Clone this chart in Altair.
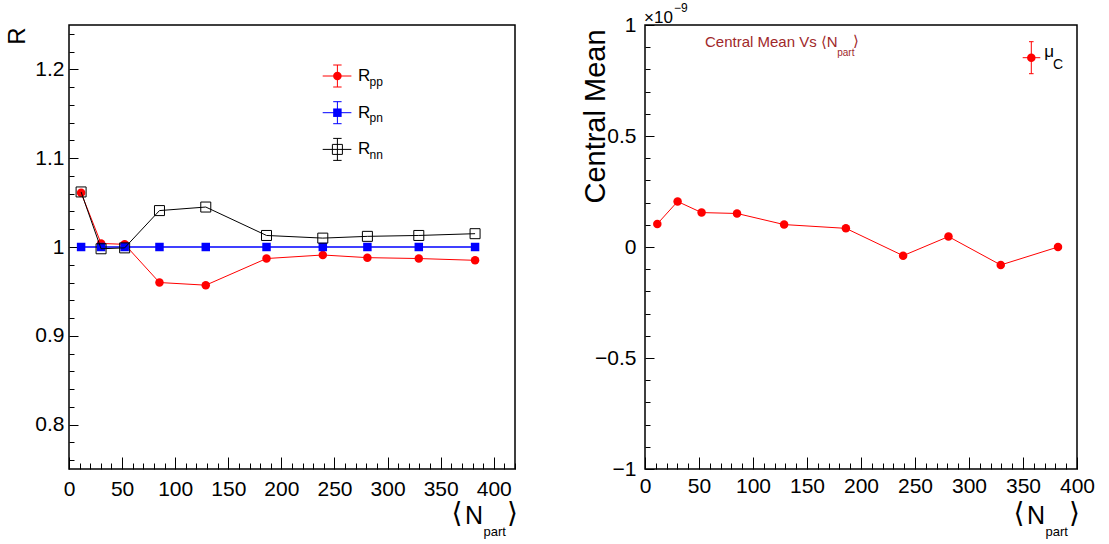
import altair as alt
import pandas as pd

# ---------------- data ----------------
npart = [11.4, 30.2, 52.4, 85.2, 128.8, 186.0, 239.0, 281.0, 329.4, 382.4]
r_pp = [1.061, 1.004, 1.003, 0.960, 0.957, 0.987, 0.991, 0.988, 0.987, 0.985]
r_pn = [1.000, 1.000, 1.000, 1.000, 1.000, 1.000, 1.000, 1.000, 1.000, 1.000]
r_nn = [1.062, 0.998, 0.999, 1.041, 1.045, 1.013, 1.010, 1.012, 1.013, 1.015]
mu_c = [0.104, 0.205, 0.155, 0.151, 0.101, 0.084, -0.039, 0.047, -0.081, 0.000]  # x 1e-9

left_x_ticks = list(range(0, 421, 10))
left_y_ticks = [round(0.76 + 0.02 * i, 2) for i in range(25)]
right_x_ticks = list(range(0, 401, 10))
right_y_ticks = [round(-1.0 + 0.1 * i, 1) for i in range(21)]

NARROW = "Liberation Sans Narrow, Liberation Sans, Arial, sans-serif"
SANS = "Liberation Sans, Arial, sans-serif"
BRK = "DejaVu Sans, sans-serif"

W1, W2, H = 446, 432, 444
one = pd.DataFrame({"k": [0]})


def txt(s, x, y, size, font=NARROW, align="left", baseline="alphabetic", angle=0, color="black"):
    return alt.Chart(one).mark_text(
        text=s, font=font, fontSize=size, align=align, baseline=baseline,
        angle=angle, color=color
    ).encode(x=alt.value(x), y=alt.value(y))


def seg(x1, y1, x2, y2, color="black", width=1.0):
    return alt.Chart(one).mark_rule(color=color, strokeWidth=width).encode(
        x=alt.value(x1), x2=alt.value(x2), y=alt.value(y1), y2=alt.value(y2))


def marker(x, y, shape, color, size, filled=True):
    return alt.Chart(one).mark_point(
        shape=shape, filled=filled, color=color, size=size, opacity=1,
        strokeWidth=1).encode(x=alt.value(x), y=alt.value(y))


def xaxis(vals, pad):
    return alt.Axis(
        values=vals, title=None, domain=False, grid=False,
        tickSize=alt.ExprRef(expr="datum.value % 50 === 0 ? -12 : -6"),
        tickColor="black", tickWidth=1,
        labelExpr="datum.value % 50 === 0 ? format(datum.value, 'd') : ''",
        labelFont=NARROW, labelFontSize=21, labelColor="black",
        labelPadding=pad, labelFlush=False, labelOverlap=False)


def yaxis(vals, pad, mult, major):
    test = f"abs(round(datum.value*{mult})) % {major} === 0"
    return alt.Axis(
        values=vals, title=None, domain=False, grid=False,
        tickSize=alt.ExprRef(expr=f"{test} ? -9 : -5"),
        tickColor="black", tickWidth=1,
        labelExpr=f"{test} ? format(datum.value, '') : ''",
        labelFont=NARROW, labelFontSize=21, labelColor="black",
        labelPadding=pad, labelOverlap=False, labelFlush=False)


# ---------------- left panel ----------------
lx = alt.X("npart:Q", scale=alt.Scale(domain=[0, 420], nice=False, zero=False),
           axis=xaxis(left_x_ticks, 21))
ly = alt.Y("r:Q", scale=alt.Scale(domain=[0.75, 1.25], nice=False, zero=False),
           axis=yaxis(left_y_ticks, 14, 100, 10))

df_pp = pd.DataFrame({"npart": npart, "r": r_pp})
df_pn = pd.DataFrame({"npart": npart, "r": r_pn})
df_nn = pd.DataFrame({"npart": npart, "r": r_nn})

layers_left = [
    alt.Chart(df_pp).mark_line(color="#ff0000", strokeWidth=1).encode(lx, ly),
    alt.Chart(df_pp).mark_point(shape="circle", filled=True, color="#ff0000", size=72, opacity=1).encode(lx, ly),
    alt.Chart(df_pn).mark_line(color="#0000ff", strokeWidth=1.5).encode(lx, ly),
    alt.Chart(df_pn).mark_point(shape="square", filled=True, color="#0000ff", size=72, opacity=1).encode(lx, ly),
    alt.Chart(df_nn).mark_line(color="black", strokeWidth=1).encode(lx, ly),
    alt.Chart(df_nn).mark_point(shape="square", filled=False, color="black", size=100, opacity=1, strokeWidth=1).encode(lx, ly),
]

# legend (left)
leg = [("pp", "#ff0000", "circle", True, 72), ("pn", "#0000ff", "square", True, 72),
       ("nn", "black", "square", False, 100)]
for i, (sub, col, shp, fil, sz) in enumerate(leg):
    cy = 51 + 36.7 * i
    layers_left += [
        seg(253.7, cy, 282.4, cy, col, 1),
        seg(268.4, cy - 11, 268.4, cy + 11, col, 1),
        seg(264.2, cy - 11, 272.6, cy - 11, col, 1),
        seg(264.2, cy + 11, 272.6, cy + 11, col, 1),
        marker(268.4, cy, shp, col, sz, fil),
        txt("R", 289, cy + 5, 17),
        txt(sub, 300.5, cy + 9.5, 12),
    ]

# axis titles (left)
layers_left += [
    txt("R", -51, 11, 24, font=SANS, align="center", baseline="middle", angle=270),
    txt("⟨", 388, 489, 28, font=BRK, align="center", baseline="middle"),
    txt("N", 396, 499.3, 25),
    txt("part", 414.5, 510.5, 13),
    txt("⟩", 443.5, 489, 28, font=BRK, align="center", baseline="middle"),
    # invisible anchor fixing the page origin
    alt.Chart(one).mark_rule(strokeWidth=0, opacity=0).encode(
        x=alt.value(-68), x2=alt.value(-67), y=alt.value(-24), y2=alt.value(-23)),
]

left = alt.layer(*layers_left).properties(width=W1, height=H)

# ---------------- right panel ----------------
rx = alt.X("npart:Q", scale=alt.Scale(domain=[0, 400], nice=False, zero=False),
           axis=xaxis(right_x_ticks, 18))
ry = alt.Y("mu:Q", scale=alt.Scale(domain=[-1, 1], nice=False, zero=False),
           axis=yaxis(right_y_ticks, 18, 10, 5))
df_mu = pd.DataFrame({"npart": npart, "mu": mu_c})

title_col = "#a0282a"
layers_right = [
    alt.Chart(df_mu).mark_line(color="#ff0000", strokeWidth=1).encode(rx, ry),
    alt.Chart(df_mu).mark_point(shape="circle", filled=True, color="#ff0000", size=72, opacity=1).encode(rx, ry),
    # legend
    seg(377.7, 32.7, 395.3, 32.7, "#ff0000", 1),
    seg(386.3, 16.7, 386.3, 48.7, "#ff0000", 1),
    seg(384.0, 16.7, 388.6, 16.7, "#ff0000", 1),
    seg(384.0, 48.7, 388.6, 48.7, "#ff0000", 1),
    marker(386.3, 32.7, "circle", "#ff0000", 72, True),
    txt("μ", 399.3, 32, 17),
    txt("C", 408, 44.3, 14),
    # exponent
    txt("×10", -1, -2, 17),
    txt("−9", 29, -13, 12),
    # title
    txt("Central Mean Vs ⟨N", 192.7, 21.7, 15, align="right", color=title_col),
    txt("part", 192.2, 30.5, 10, color=title_col),
    txt("⟩", 211, 16, 15, font=BRK, align="center", baseline="middle", color=title_col),
    # axis titles
    txt("Central Mean", -49.5, 91.5, 29, font=SANS, align="center", baseline="middle", angle=270),
    txt("⟨", 374, 489, 28, font=BRK, align="center", baseline="middle"),
    txt("N", 382, 499.3, 25),
    txt("part", 400.5, 510.5, 13),
    txt("⟩", 429.5, 489, 28, font=BRK, align="center", baseline="middle"),
]
right = alt.layer(*layers_right).properties(width=W2, height=H)

chart = alt.hconcat(left, right, spacing=130, bounds="flush").properties(
    padding=0, background="white"
).configure_view(stroke="black", strokeWidth=1.5)

chart.save("out.html", embed_options={"renderer": "svg", "actions": False})
